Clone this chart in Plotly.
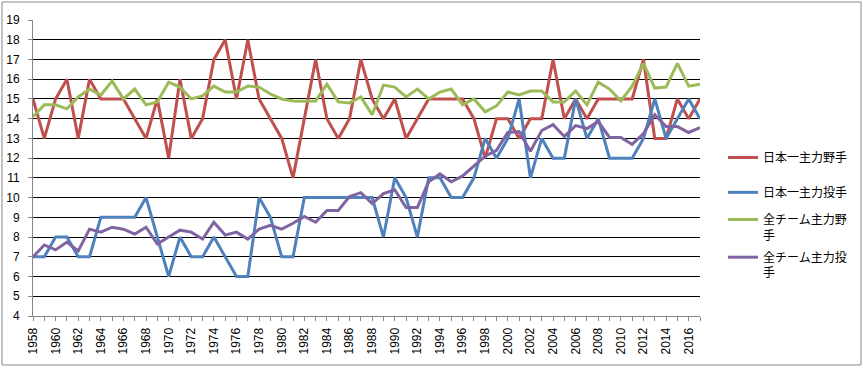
import plotly.graph_objects as go

years = list(range(1958, 2018))

nippon_fielders = [15, 13, 15, 16, 13, 16, 15, 15, 15, 14, 13, 15, 12, 16, 13, 14,
                   17, 18, 15, 18, 15, 14, 13, 11, 14, 17, 14, 13, 14, 17, 15, 14,
                   15, 13, 14, 15, 15, 15, 15, 14, 12, 14, 14, 13, 14, 14, 17, 14,
                   15, 14, 15, 15, 15, 15, 17, 13, 13, 15, 14, 15]

nippon_pitchers = [7, 7, 8, 8, 7, 7, 9, 9, 9, 9, 10, 8, 6, 8, 7, 7,
                   8, 7, 6, 6, 10, 9, 7, 7, 10, 10, 10, 10, 10, 10, 10, 8,
                   11, 10, 8, 11, 11, 10, 10, 11, 13, 12, 13, 15, 11, 13, 12, 12,
                   15, 13, 14, 12, 12, 12, 13, 15, 13, 14, 15, 14]

all_fielders = [14.1, 14.7, 14.7, 14.5, 15.1, 15.5, 15.2, 15.9, 15.0, 15.5, 14.7, 14.85,
                15.85, 15.6, 15.0, 15.15, 15.65, 15.35, 15.35, 15.65, 15.6, 15.25, 15.0, 14.9,
                14.88, 14.9, 15.75, 14.85, 14.8, 15.1, 14.2, 15.7, 15.6, 15.1, 15.5, 15.0,
                15.35, 15.5, 14.7, 15.0, 14.35, 14.65, 15.35, 15.2, 15.4, 15.4, 14.85, 14.85,
                15.4, 14.7, 15.85, 15.5, 14.9, 15.65, 16.8, 15.55, 15.6, 16.8, 15.65, 15.75]

all_pitchers = [7.0, 7.6, 7.35, 7.75, 7.3, 8.4, 8.25, 8.5, 8.4, 8.15, 8.5, 7.65,
                8.0, 8.35, 8.25, 7.9, 8.75, 8.1, 8.25, 7.9, 8.4, 8.6, 8.4, 8.7,
                9.05, 8.75, 9.35, 9.35, 10.05, 10.25, 9.7, 10.2, 10.4, 9.5, 9.5, 10.8,
                11.2, 10.8, 11.1, 11.6, 12.1, 12.4, 13.3, 13.35, 12.35, 13.4, 13.7, 13.1,
                13.65, 13.5, 13.85, 13.05, 13.05, 12.7, 13.25, 14.2, 13.6, 13.6, 13.3, 13.55]

series_names = ["日本一主力野手", "日本一主力投手", "全チーム主力野<br>手", "全チーム主力投<br>手"]
series_colors = ["#C0504D", "#4F81BD", "#9BBB59", "#8064A2"]
series_values = [nippon_fielders, nippon_pitchers, all_fielders, all_pitchers]

x_tick_labels = [str(y) for y in range(1958, 2018, 2)]
y_ticks = list(range(4, 20))

legend_ids = ["legend", "legend2", "legend3", "legend4"]
legend_tops = [0.584, 0.466, 0.374, 0.247]

fig = go.Figure()
for name, color, vals, lid in zip(series_names, series_colors, series_values, legend_ids):
    fig.add_trace(go.Scatter(
        x=years, y=vals, mode="lines", name=name, legend=lid,
        line=dict(color=color, width=3),
    ))

axis_font = dict(family="Liberation Sans, Arial", size=12, color="#000000")
legend_font = dict(family="Noto Sans CJK JP", size=12, color="#000000")

layout_legends = {}
for lid, top in zip(legend_ids, legend_tops):
    layout_legends[lid] = dict(
        x=1.0345, y=top, xanchor="left", yanchor="top",
        font=legend_font, valign="top", itemwidth=30,
        bgcolor="rgba(0,0,0,0)",
    )

fig.update_layout(
    width=863, height=368,
    margin=dict(l=33, r=163, t=20, b=52, autoexpand=False),
    paper_bgcolor="white", plot_bgcolor="white",
    showlegend=True,
    **layout_legends,
    xaxis=dict(
        range=[1958, 2017], tickmode="array",
        tickvals=list(range(1958, 2018, 2)), ticktext=x_tick_labels,
        tickangle=-90, ticks="outside", ticklen=4, tickcolor="#868686",
        minor=dict(dtick=1, tick0=1958, ticks="outside", ticklen=4, tickcolor="#868686", showgrid=False),
        showgrid=False, showline=True, linecolor="#868686", linewidth=1,
        zeroline=False, tickfont=axis_font, ticklabelstandoff=2, automargin=False,
    ),
    yaxis=dict(
        range=[4, 19], tickmode="array", tickvals=y_ticks,
        ticks="outside", ticklen=4, tickcolor="#868686",
        showgrid=True, gridcolor="#000000", gridwidth=1,
        showline=True, linecolor="#868686", linewidth=1,
        zeroline=False, tickfont=axis_font, ticklabelstandoff=6, automargin=False,
    ),
    shapes=[dict(type="rect", xref="paper", yref="paper",
                 x0=-0.0465, x1=1.2414, y0=-0.1655, y1=1.0608,
                 line=dict(color="#868686", width=1), layer="above")],
)

fig.write_html("out.html", config={"displayModeBar": False},
               post_script="document.body.style.margin='0';")
